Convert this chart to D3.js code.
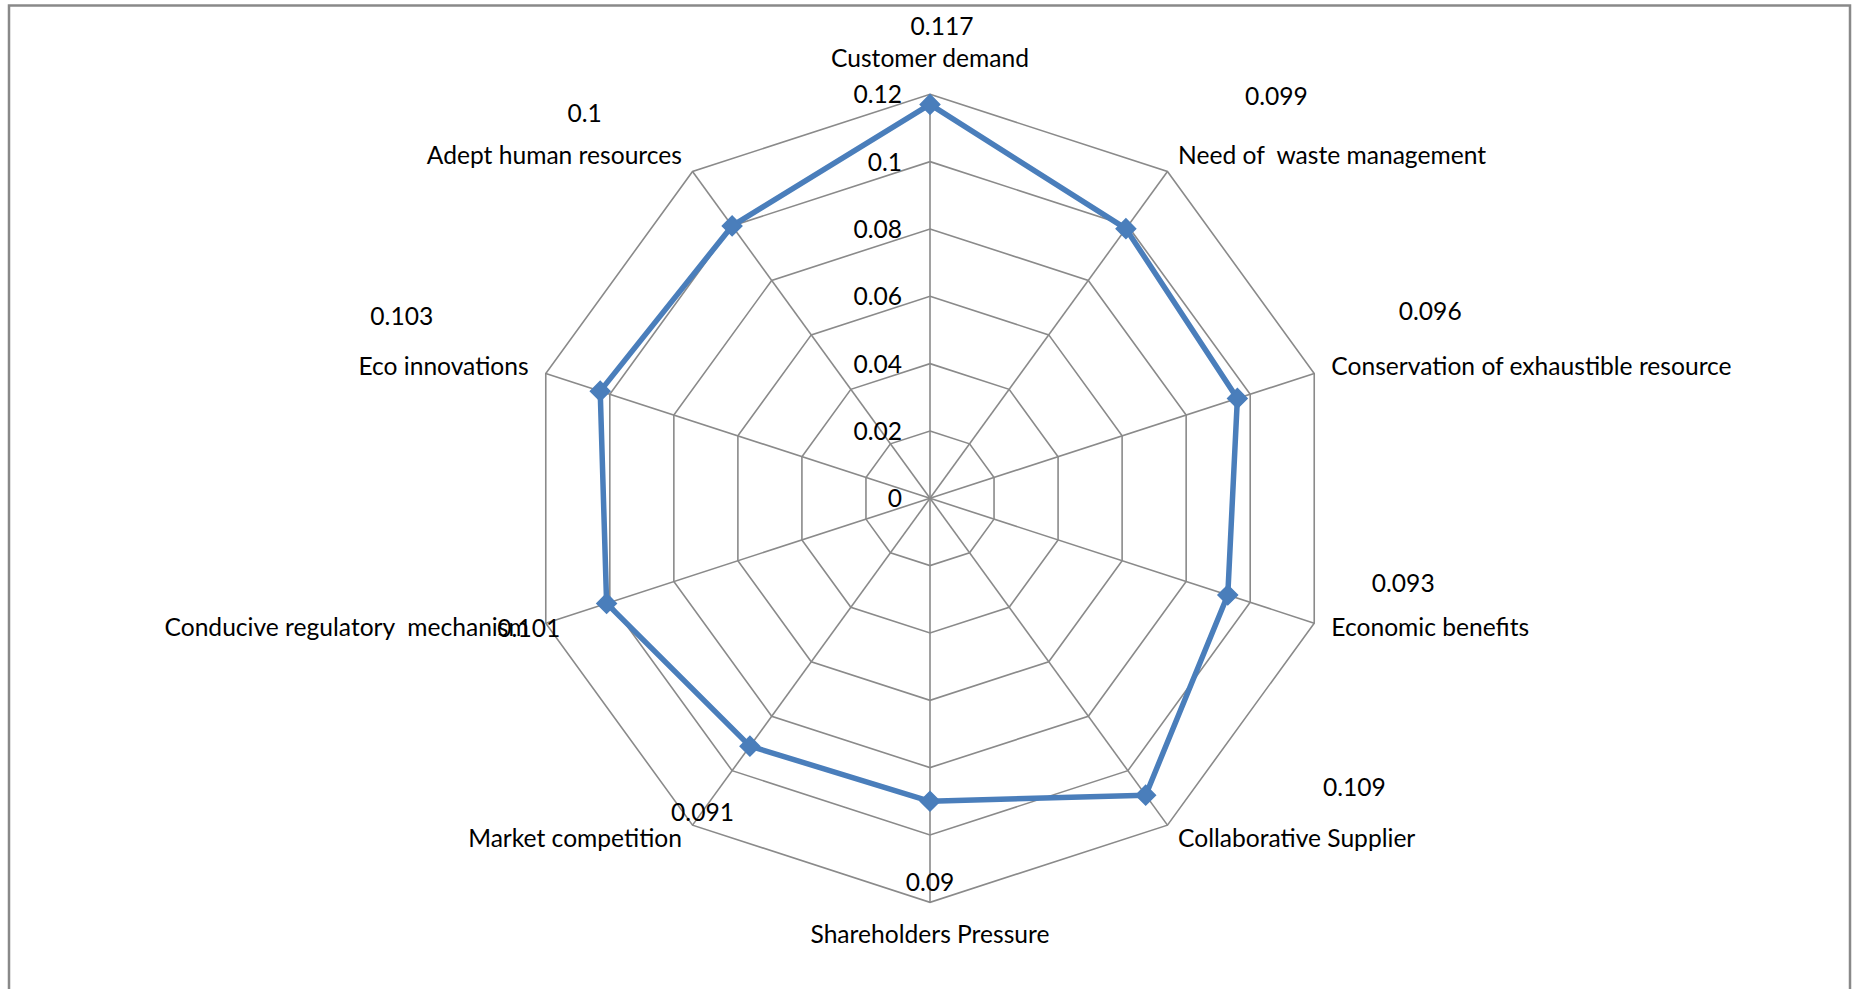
<!DOCTYPE html>
<html>
<head>
<meta charset="utf-8">
<script src="https://cdn.jsdelivr.net/npm/d3@7"></script>
<style>
  html, body { margin: 0; padding: 0; background: #fff; }
  svg { display: block; }
  text { font-family: Lato, "Open Sans", sans-serif; fill: #000; white-space: pre; }
</style>
</head>
<body>
<svg id="chart" width="1856" height="989"></svg>
<script>
// Drivers and their weights
const categories = [
  "Customer demand",
  "Need of  waste management",
  "Conservation of exhaustible resource",
  "Economic benefits",
  "Collaborative Supplier",
  "Shareholders Pressure",
  "Market competition",
  "Conducive regulatory  mechanism",
  "Eco innovations",
  "Adept human resources"
];
const values = [0.117, 0.099, 0.096, 0.093, 0.109, 0.09, 0.091, 0.101, 0.103, 0.1];

// Radial axis
const tickValues = [0, 0.02, 0.04, 0.06, 0.08, 0.1, 0.12];
const tickLabels = ["0", "0.02", "0.04", "0.06", "0.08", "0.1", "0.12"];

// Layout: where each value label sits relative to its outer vertex
const valueLabelShift = [
  [12, -59], [109, -66], [116, -53], [89, -31], [187, -29],
  [0, -11], [10, -4], [-17, 14], [-144, -48], [-108, -49]
];

const cx = 930, cy = 498.3, R = 404;
const fontSize = 24.6;

const svg = d3.select("#chart");

// Outer frame
svg.append("rect")
  .attr("x", 9).attr("y", 5.5)
  .attr("width", 1841).attr("height", 1010)
  .attr("fill", "none")
  .attr("stroke", "#898989")
  .attr("stroke-width", 2.5);

const g = svg.append("g").attr("transform", `translate(${cx},${cy})`);

const r = d3.scaleLinear().domain([0, 0.12]).range([0, R]);
const angle = d3.scaleLinear().domain([0, categories.length]).range([0, 2 * Math.PI]);

const pt = (i, v) => {
  const a = angle(i);
  return [r(v) * Math.sin(a), -r(v) * Math.cos(a)];
};

const radial = d3.lineRadial()
  .angle(d => angle(d.i))
  .radius(d => r(d.v))
  .curve(d3.curveLinearClosed);

const gridColor = "#8a8a8a";

// Concentric polygons
g.selectAll("path.ring")
  .data(tickValues.filter(t => t > 0))
  .join("path")
  .attr("class", "ring")
  .attr("d", t => radial(categories.map((c, i) => ({ i, v: t }))))
  .attr("fill", "none")
  .attr("stroke", gridColor)
  .attr("stroke-width", 1.6);

// Spokes
g.selectAll("line.spoke")
  .data(categories)
  .join("line")
  .attr("class", "spoke")
  .attr("x1", 0).attr("y1", 0)
  .attr("x2", (c, i) => pt(i, tickValues[tickValues.length - 1])[0])
  .attr("y2", (c, i) => pt(i, tickValues[tickValues.length - 1])[1])
  .attr("stroke", gridColor)
  .attr("stroke-width", 1.6);

// Series outline
const series = values.map((v, i) => ({ i, v }));
g.append("path")
  .attr("d", radial(series))
  .attr("fill", "none")
  .attr("stroke", "#4a7ebb")
  .attr("stroke-width", 5.5)
  .attr("stroke-linejoin", "round");

// Diamond markers
const diamond = d3.symbol().type(d3.symbolSquare).size(190);
g.selectAll("path.marker")
  .data(series)
  .join("path")
  .attr("class", "marker")
  .attr("d", diamond)
  .attr("transform", d => {
    const [x, y] = pt(d.i, d.v);
    return `translate(${x},${y}) rotate(45)`;
  })
  .attr("fill", "#4a7ebb")
  .attr("stroke", "#4a7ebb")
  .attr("stroke-width", 1.5);

// Radial tick labels along the top spoke
g.selectAll("text.tick")
  .data(tickValues)
  .join("text")
  .attr("class", "tick")
  .attr("x", -28)
  .attr("y", t => -r(t) + 9)
  .attr("text-anchor", "end")
  .attr("font-size", fontSize)
  .text((t, i) => tickLabels[i]);

// Category labels just outside each vertex
const pad = 18;
g.selectAll("text.cat")
  .data(categories)
  .join("text")
  .attr("class", "cat")
  .attr("font-size", fontSize)
  .each(function (c, i) {
    const a = angle(i);
    const s = Math.sin(a), k = Math.cos(a);
    const x = (R + pad) * s, y = -(R + pad) * k;
    let anchor = "middle", dy = 7;
    if (s > 0.01) anchor = "start";
    else if (s < -0.01) anchor = "end";
    else dy = k > 0 ? -9 : 23;
    d3.select(this)
      .attr("x", x).attr("y", y + dy)
      .attr("text-anchor", anchor)
      .text(c);
  });

// Value labels
g.selectAll("text.val")
  .data(series)
  .join("text")
  .attr("class", "val")
  .attr("font-size", fontSize)
  .attr("text-anchor", "middle")
  .attr("x", d => pt(d.i, 0.12)[0] + valueLabelShift[d.i][0])
  .attr("y", d => pt(d.i, 0.12)[1] + valueLabelShift[d.i][1])
  .text(d => String(d.v));
</script>
</body>
</html>
